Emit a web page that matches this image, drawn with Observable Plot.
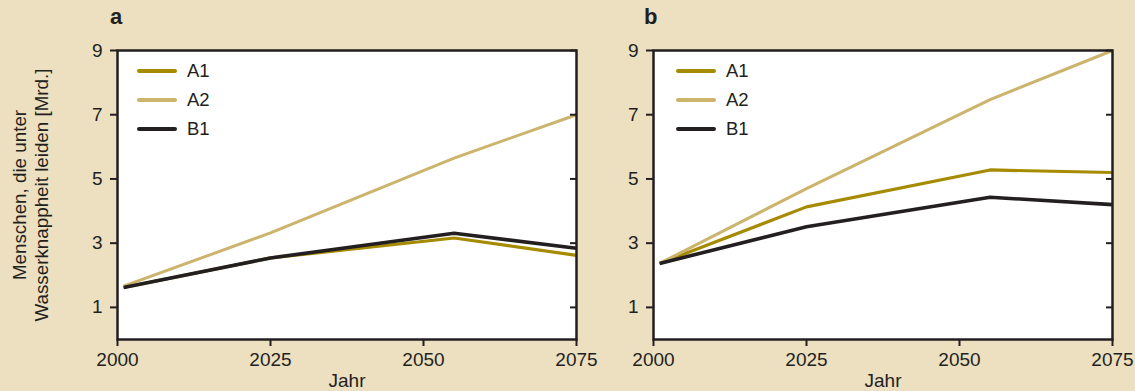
<!DOCTYPE html>
<html>
<head>
<meta charset="utf-8">
<script src="https://cdn.jsdelivr.net/npm/d3@7"></script>
<script src="https://cdn.jsdelivr.net/npm/@observablehq/plot@0.6"></script>
<style>
  html, body { margin: 0; padding: 0; background: #ece0c1; }
  #chart {
    position: relative; width: 1135px; height: 391px; overflow: hidden;
    background: #ece0c1; color: #231f20;
    font-family: "Liberation Sans", Arial, Helvetica, sans-serif;
  }
  .panel { position: absolute; top: 0; }
  .panel-label { position: absolute; top: 4px; font-size: 22px; font-weight: bold; }
  .ytitle {
    position: absolute; left: 31px; top: 195px; width: 330px;
    transform: translate(-50%, -50%) rotate(-90deg);
    text-align: center; font-size: 18.8px; line-height: 22px;
  }
  .legend { position: absolute; font-size: 18.5px; }
  .legend .row { position: absolute; left: 0; height: 20px; display: flex; align-items: center; white-space: nowrap; }
  .legend .row svg { margin-right: 10px; }
</style>
</head>
<body>
<div id="chart"></div>
<script>
// Scenario years (first point sits just after 2000)
const years = [2001, 2025, 2055, 2075];
const seriesNames = ["A1", "A2", "B1"];
const seriesColors = ["#a68a00", "#ccb46c", "#231f20"];
const seriesWidths = [3.2, 3, 3.6];

// Panel a: people affected by water scarcity [billion]
const aA1 = [1.62, 2.54, 3.16, 2.62];
const aA2 = [1.66, 3.32, 5.65, 7.0];
const aB1 = [1.62, 2.54, 3.31, 2.84];

// Panel b
const bA1 = [2.37, 4.13, 5.28, 5.2];
const bA2 = [2.37, 4.7, 7.47, 9.0];
const bB1 = [2.37, 3.51, 4.43, 4.2];

const xTicks = [2000, 2025, 2050, 2075];
const yTicks = [1, 3, 5, 7, 9];
const yTitle = ["Menschen, die unter", "Wasserknappheit leiden [Mrd.]"];
const xTitle = "Jahr";
const panelLabels = ["a", "b"];

const ink = "#231f20";
const font = "'Liberation Sans', Arial, sans-serif";
const fontSize = 19;
const chart = document.getElementById("chart");

function rows(values) {
  return seriesNames.flatMap((name, i) =>
    values[i].map((v, j) => ({series: name, year: years[j], value: v})));
}

function panel(values, {left, width, marginLeft, marginRight}) {
  const data = rows(values);
  const svg = Plot.plot({
    width, height: 391,
    marginTop: 50, marginBottom: 52, marginLeft, marginRight,
    style: {background: "transparent", fontFamily: font, fontSize: fontSize + "px", color: ink, overflow: "visible"},
    x: {domain: [2000, 2075]},
    y: {domain: [0, 9]},
    color: {domain: seriesNames, range: seriesColors},
    marks: [
      Plot.frame({fill: "white", stroke: null}),
      ...seriesNames.map((name, i) =>
        Plot.line(data.filter(d => d.series === name), {
          x: "year", y: "value", stroke: "series", strokeWidth: seriesWidths[i],
          strokeLinejoin: "miter", strokeLinecap: "butt"
        })),
      Plot.frame({stroke: ink, strokeWidth: 2.5}),
      Plot.axisX({ticks: xTicks, tickFormat: d => String(d), tickSize: 7, tickPadding: 6, strokeWidth: 2,
        fontSize, fontFamily: font,
        label: xTitle, labelAnchor: "center", labelOffset: 47, labelArrow: "none"}),
      Plot.axisY({anchor: "left", ticks: yTicks, tickSize: 7, tickPadding: 8, strokeWidth: 2,
        fontSize, fontFamily: font, label: null}),
      Plot.axisY({anchor: "right", ticks: yTicks, tickSize: -7, tickFormat: () => "", strokeWidth: 2, label: null})
    ]
  });
  svg.classList.add("panel");
  svg.style.left = left + "px";
  chart.appendChild(svg);
}

function legend(left) {
  const box = document.createElement("div");
  box.className = "legend";
  box.style.left = left + "px";
  box.style.top = "0px";
  seriesNames.forEach((name, i) => {
    const row = document.createElement("div");
    row.className = "row";
    row.style.top = (61 + i * 29) + "px";
    row.innerHTML = `<svg width="40" height="6"><line x1="2" x2="38" y1="3" y2="3" stroke="${seriesColors[i]}" stroke-width="4" stroke-linecap="round"/></svg><span>${name}</span>`;
    box.appendChild(row);
  });
  chart.appendChild(box);
}

panel([aA1, aA2, aB1], {left: 0, width: 600, marginLeft: 117, marginRight: 24});
panel([bA1, bA2, bB1], {left: 600, width: 535, marginLeft: 53, marginRight: 23});
legend(137);
legend(676);

panelLabels.forEach((t, i) => {
  const el = document.createElement("div");
  el.className = "panel-label";
  el.style.left = (i === 0 ? 110 : 644) + "px";
  el.textContent = t;
  chart.appendChild(el);
});

const yt = document.createElement("div");
yt.className = "ytitle";
yt.innerHTML = yTitle.map(s => `<div>${s}</div>`).join("");
chart.appendChild(yt);
</script>
</body>
</html>
